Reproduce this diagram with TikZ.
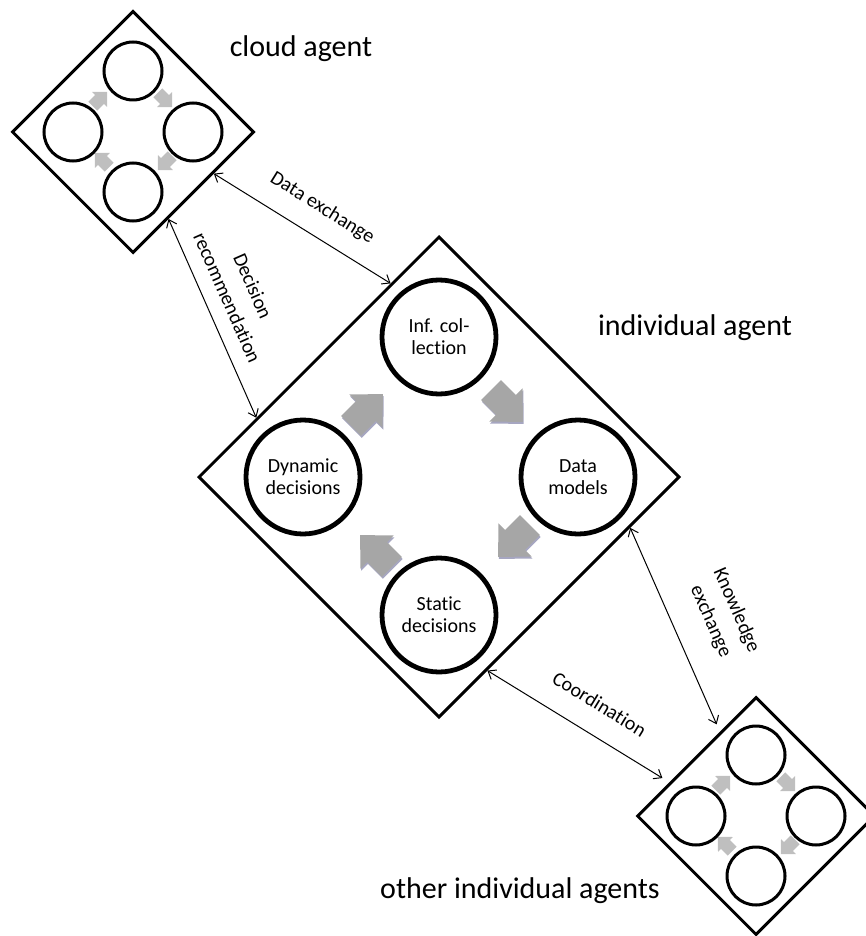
\documentclass[tikz,border=0pt]{standalone}
\usepackage{fontspec}
\setmainfont{Carlito}[Ligatures=NoCommon]
\usetikzlibrary{calc,shapes.geometric,arrows.meta,shadows}

\begin{document}
\begin{tikzpicture}[x=0.5pt,y=-0.5pt,
  agent/.style={diamond,draw,line width=1.5pt,inner sep=0pt,minimum size=#1},
  bigstep/.style={circle,draw,line width=2.4pt,minimum size=57pt,inner sep=0pt,align=center,font=\fontsize{10}{11}\selectfont},
  smallstep/.style={circle,draw,line width=1.5pt,minimum size=29pt,inner sep=0pt},
  bigflow/.style={fill=black!35,drop shadow={shadow xshift=0.4pt,shadow yshift=-1pt,opacity=0.35,fill=black!70!blue}},
  smallflow/.style={fill=black!25},
  flow/.pic={\fill[#1] (-22.5,-14) -- (-1.5,-14) -- (-1.5,-23.5) -- (22.5,0) -- (-1.5,23.5) -- (-1.5,14) -- (-22.5,14) -- cycle;},
  link/.style={{Straight Barb[length=3.5pt,width=5.5pt]}-{Straight Barb[length=3.5pt,width=5.5pt]},line width=0.5pt},
  lbl/.style={font=\fontsize{10}{14}\selectfont,align=center},
  agentname/.style={font=\fontsize{15}{18}\selectfont}]
\useasboundingbox (0,0) rectangle (866,936);
\clip (0,0) rectangle (866,936);

\node[agent=121pt] (cloud) at (133,132) {};
\node[agent=240.5pt] (ind) at (439,477) {};
\node[agent=119pt] (oth) at (756,816) {};

\node[bigstep] (inf) at ($(ind)+(0,-140)$) {Inf. col-\\lection};
\node[bigstep] (data) at ($(ind)+(139,0)$) {Data\\models};
\node[bigstep] (stat) at ($(ind)+(0,138)$) {Static\\decisions};
\node[bigstep] (dyn) at ($(ind)+(-136,0)$) {Dynamic\\decisions};
\foreach \c in {cloud,oth}
  \foreach \n/\dx/\dy in {t/0/-61,r/60/0,b/0/60,l/-60/0}
    \node[smallstep] (\c-\n) at ($(\c)+(\dx,\dy)$) {};

\foreach \dx/\dy/\a in {68/-71/-45,75/64/-135,-63/74/135,-72/-67/45}
  \pic[rotate=\a] at ($(ind)+(\dx,\dy)$) {flow=bigflow};
\foreach \c in {cloud,oth}
  \foreach \dx/\dy/\a in {32/-32/-45,32/31/-135,-31/28/135,-33/-33/45}
    \pic[rotate=\a,scale=0.45] at ($(\c)+(\dx,\dy)$) {flow=smallflow};

\node[agentname] (cloud-name) at (301,49) {cloud agent};
\node[agentname] (ind-name) at (695,328) {individual agent};
\node[agentname] (oth-name) at (520,891) {other individual agents};

\coordinate (de-a) at ($(cloud.east)!0.34!(cloud.south)$);
\coordinate (de-b) at ($(ind.north)!0.2!(ind.west)$);
\coordinate (dr-a) at ($(cloud.south)!0.29!(cloud.east)$);
\coordinate (dr-b) at ($(ind.west)!0.245!(ind.north)$);
\coordinate (ke-a) at ($(ind.east)!0.21!(ind.south)$);
\coordinate (ke-b) at ($(oth.north)!0.3!(oth.west)$);
\coordinate (co-a) at ($(ind.south)!0.2!(ind.east)$);
\coordinate (co-b) at ($(oth.west)!0.28!(oth.north)$);
\draw[link] (de-a) -- node[lbl,sloped,above=6pt,pos=0.53]{Data exchange} (de-b);
\draw[link] (dr-a) -- node[lbl,sloped,above=4pt,pos=0.44]{Decision\\recommendation} (dr-b);
\draw[link,shorten >=4pt] (ke-a) -- node[lbl,sloped,above=10pt,pos=0.53]{Knowledge\\exchange} (ke-b);
\draw[link,shorten >=4pt] (co-a) -- node[lbl,sloped,above=8pt,pos=0.53]{Coordination} (co-b);
\end{tikzpicture}
\end{document}
